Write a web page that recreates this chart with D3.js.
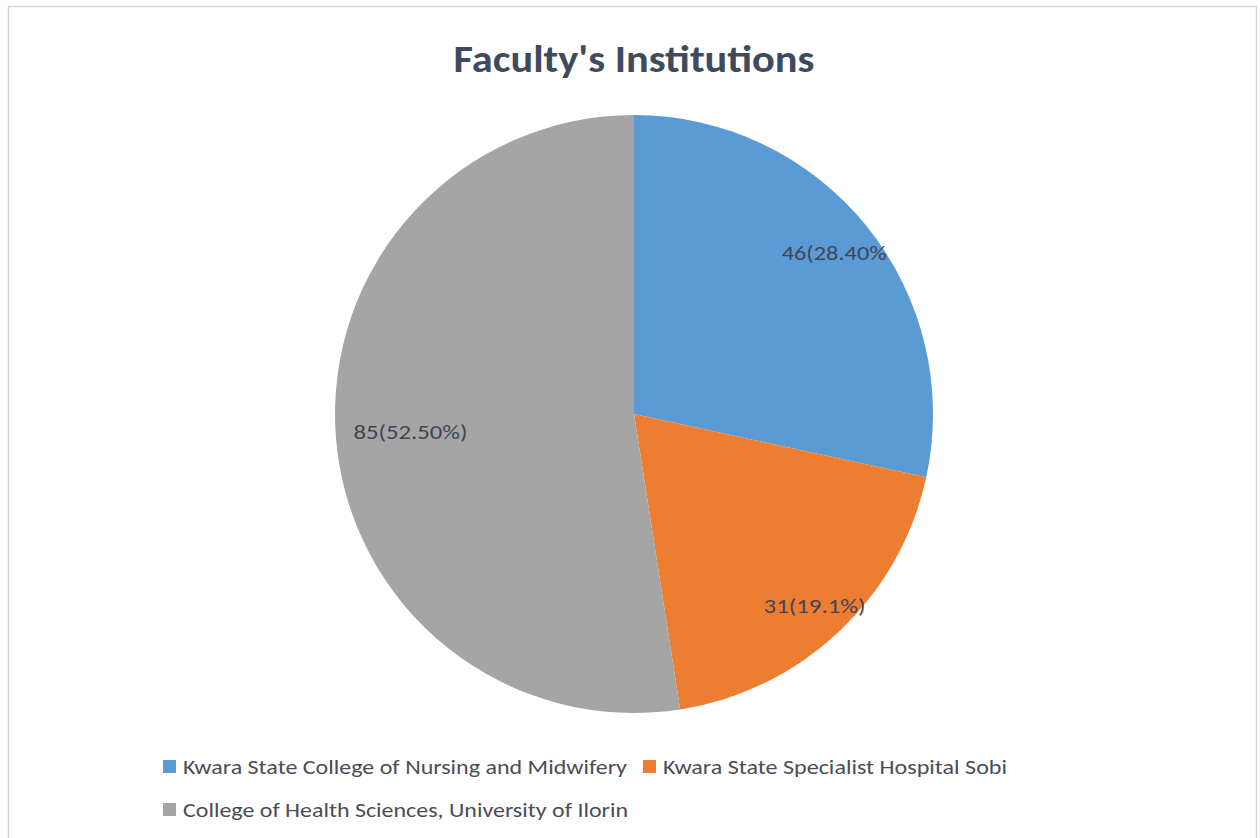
<!DOCTYPE html>
<html>
<head>
<meta charset="utf-8">
<script src="https://cdn.jsdelivr.net/npm/d3@7"></script>
<style>
  html, body { margin: 0; padding: 0; background: #ffffff; }
  svg { display: block; font-family: Carlito, Calibri, Lato, "Open Sans", sans-serif; }
</style>
</head>
<body>
<svg id="chart" width="1260" height="838"></svg>
<script>
// Institutions of the responding faculty
const categories = [
  "Kwara State College of Nursing and Midwifery",
  "Kwara State Specialist Hospital Sobi",
  "College of Health Sciences, University of Ilorin"
];
const counts = [46, 31, 85];
const sliceLabels = ["46(28.40%", "31(19.1%)", "85(52.50%)"];
const colors = ["#5B9BD5", "#ED7D31", "#A5A5A5"];
const titleText = "Faculty's Institutions";

// Layout
const W = 1260, H = 838;
const cx = 634, cy = 414, R = 299;
const labelRadius = [0.86, 0.88, 0.75];
const labelWidth = [105, 102, 114];

const svg = d3.select("#chart");

// Chart area frame
svg.append("rect")
  .attr("x", 8.5).attr("y", 6.5)
  .attr("width", 1248).attr("height", 850)
  .attr("fill", "#ffffff")
  .attr("stroke", "#d4d4d4")
  .attr("stroke-width", 1.5);

// Title
svg.append("text")
  .attr("x", cx).attr("y", 72)
  .attr("text-anchor", "middle")
  .attr("font-size", 39)
  .attr("font-weight", "bold")
  .attr("fill", "#404a5e")
  .attr("textLength", 361)
  .attr("lengthAdjust", "spacingAndGlyphs")
  .text(titleText);

// Pie, starting at 12 o'clock and running clockwise
const pie = d3.pie().sort(null).value(d => d)(counts);
const arc = d3.arc().innerRadius(0).outerRadius(R);

const g = svg.append("g").attr("transform", `translate(${cx},${cy})`);

g.selectAll("path.slice")
  .data(pie)
  .join("path")
  .attr("class", "slice")
  .attr("d", arc)
  .attr("fill", (d, i) => colors[i])
  .attr("stroke", "none");

// Data labels
g.selectAll("text.lbl")
  .data(pie)
  .join("text")
  .attr("class", "lbl")
  .attr("transform", (d, i) => {
    const a = (d.startAngle + d.endAngle) / 2;
    const r = R * labelRadius[i];
    return `translate(${Math.sin(a) * r},${-Math.cos(a) * r})`;
  })
  .attr("text-anchor", "middle")
  .attr("dy", "0.35em")
  .attr("font-size", 21)
  .attr("fill", "#3e4657")
  .attr("textLength", (d, i) => labelWidth[i])
  .attr("lengthAdjust", "spacingAndGlyphs")
  .text((d, i) => sliceLabels[i]);

// Legend
const legendItems = [
  { x: 163, y: 767, w: 444 },
  { x: 643, y: 767, w: 344 },
  { x: 163, y: 810, w: 445 }
];
const lg = svg.append("g");
legendItems.forEach((p, i) => {
  lg.append("rect")
    .attr("x", p.x).attr("y", p.y - 7)
    .attr("width", 13).attr("height", 13)
    .attr("fill", colors[i]);
  lg.append("text")
    .attr("x", p.x + 20).attr("y", p.y)
    .attr("dy", "0.35em")
    .attr("font-size", 21)
    .attr("fill", "#4a4d57")
    .attr("textLength", p.w)
    .attr("lengthAdjust", "spacingAndGlyphs")
    .text(categories[i]);
});
</script>
</body>
</html>
